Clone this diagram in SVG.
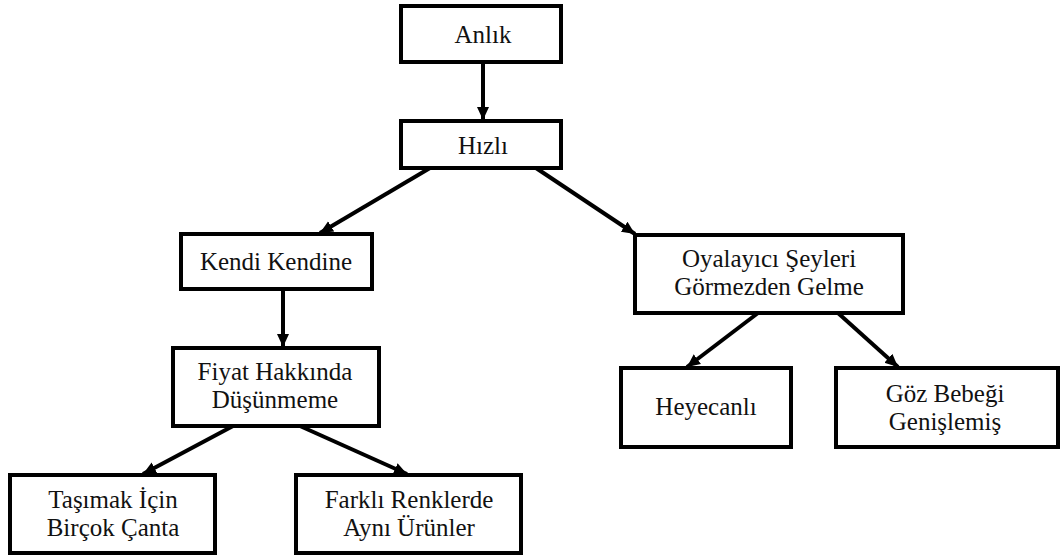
<svg xmlns="http://www.w3.org/2000/svg" width="1061" height="555" viewBox="0 0 1061 555">
<style>
.box{fill:#fff;stroke:#000;stroke-width:4}
.t{font-family:"Liberation Serif","Times New Roman",serif;font-size:25px;fill:#111;text-anchor:middle}
.c{stroke:#000;stroke-width:4;fill:none;marker-end:url(#ah)}
</style>
<defs>
<marker id="ah" markerUnits="userSpaceOnUse" markerWidth="16" markerHeight="16" viewBox="0 0 16 16" refX="13" refY="8" orient="auto">
<path d="M0,2 L13,8 L0,14 Z" fill="#000"/>
</marker>
</defs>
<rect width="1061" height="555" fill="#fff"/>
<g id="connectors">
<line class="c" x1="483" y1="62" x2="483" y2="120"/>
<line class="c" x1="430" y1="168" x2="320" y2="233"/>
<line class="c" x1="536" y1="168" x2="635" y2="234"/>
<line class="c" x1="283" y1="289" x2="283" y2="347"/>
<line class="c" x1="233" y1="426" x2="143" y2="474"/>
<line class="c" x1="300" y1="426" x2="407" y2="474"/>
<line class="c" x1="758" y1="313" x2="687" y2="367"/>
<line class="c" x1="838" y1="313" x2="898" y2="367"/>
</g>
<g id="n-anlik"><rect class="box" x="401" y="6" width="160" height="56"/><text class="t" x="483" y="43">Anlık</text></g>
<g id="n-hizli"><rect class="box" x="401" y="121" width="160" height="47"/><text class="t" x="483" y="154">Hızlı</text></g>
<g id="n-kendi"><rect class="box" x="181" y="234" width="191" height="55"/><text class="t" x="276" y="270">Kendi Kendine</text></g>
<g id="n-oyala"><rect class="box" x="635" y="235" width="268" height="78"/><text class="t" x="769" y="267">Oyalayıcı Şeyleri</text><text class="t" x="769" y="295">Görmezden Gelme</text></g>
<g id="n-fiyat"><rect class="box" x="173" y="348" width="206" height="78"/><text class="t" x="275" y="380">Fiyat Hakkında</text><text class="t" x="275" y="408">Düşünmeme</text></g>
<g id="n-heyecan"><rect class="box" x="621" y="368" width="170" height="79"/><text class="t" x="706" y="415">Heyecanlı</text></g>
<g id="n-goz"><rect class="box" x="836" y="368" width="222" height="79"/><text class="t" x="945" y="402">Göz Bebeği</text><text class="t" x="945" y="430">Genişlemiş</text></g>
<g id="n-tasimak"><rect class="box" x="10" y="475" width="205" height="78"/><text class="t" x="113" y="508">Taşımak İçin</text><text class="t" x="113" y="536">Birçok Çanta</text></g>
<g id="n-farkli"><rect class="box" x="296" y="475" width="225" height="78"/><text class="t" x="409" y="508">Farklı Renklerde</text><text class="t" x="409" y="536">Aynı Ürünler</text></g>
</svg>
